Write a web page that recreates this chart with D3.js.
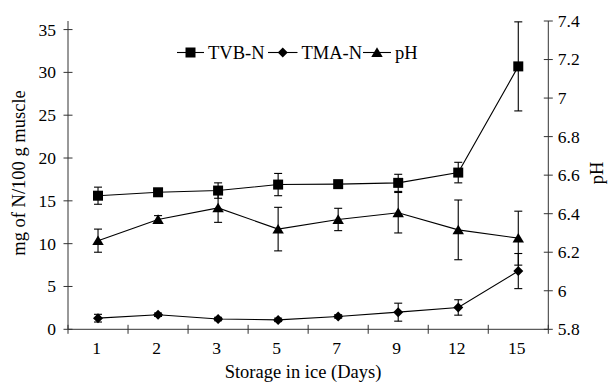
<!DOCTYPE html>
<html>
<head>
<meta charset="utf-8">
<script src="https://cdn.jsdelivr.net/npm/d3@7"></script>
<style>
  body { margin: 0; background: #fff; }
  text { font-family: "Liberation Serif", "Times New Roman", serif; fill: #000; }
</style>
</head>
<body>
<div id="chart"></div>
<script>
// storage days (categories)
const days = ["1", "2", "3", "5", "7", "9", "12", "15"];

// TVB-N and TMA-N in mg N/100 g muscle (left axis)
const tvbN = [15.6, 16.0, 16.2, 16.9, 16.95, 17.1, 18.3, 30.7];
const tvbErr = [1.0, 0.4, 0.9, 1.3, 0.3, 1.0, 1.2, 5.2];
const tmaN = [1.3, 1.7, 1.2, 1.1, 1.5, 2.0, 2.55, 6.8];
const tmaErr = [0.45, 0.2, 0.2, 0.2, 0.2, 1.05, 0.9, 2.05];

// pH (right axis)
const pH = [6.26, 6.37, 6.43, 6.32, 6.37, 6.405, 6.316, 6.273];
const pHErr = [0.06, 0.02, 0.075, 0.113, 0.058, 0.105, 0.155, 0.14];

const leftTicks = [0, 5, 10, 15, 20, 25, 30, 35];
const rightTicks = [5.8, 6, 6.2, 6.4, 6.6, 6.8, 7, 7.2, 7.4];

const w = 608, h = 382;
const plot = { left: 68, right: 548.3, top: 21, bottom: 329.3 };

const svg = d3.select("#chart").append("svg")
    .attr("width", w)
    .attr("height", h);

const x = d3.scaleBand().domain(days).range([plot.left, plot.right]);
const cx = d => x(d) + x.bandwidth() / 2;
const yL = d3.scaleLinear().domain([0, 36]).range([plot.bottom, plot.top]);
const yR = d3.scaleLinear().domain([5.8, 7.4]).range([plot.bottom, plot.top]);

const axisColor = "#333";
const fs = "17.5px";

// left axis
svg.append("line")
    .attr("x1", plot.left).attr("x2", plot.left)
    .attr("y1", plot.top).attr("y2", plot.bottom)
    .attr("stroke", axisColor);
leftTicks.forEach(t => {
    svg.append("line")
        .attr("x1", plot.left - 4.5).attr("x2", plot.left + 4.5)
        .attr("y1", yL(t)).attr("y2", yL(t))
        .attr("stroke", axisColor);
    svg.append("text")
        .attr("x", plot.left - 12).attr("y", yL(t)).attr("dy", "0.34em")
        .attr("text-anchor", "end").style("font-size", fs)
        .text(t);
});

// right axis
svg.append("line")
    .attr("x1", plot.right).attr("x2", plot.right)
    .attr("y1", plot.top).attr("y2", plot.bottom)
    .attr("stroke", axisColor);
rightTicks.forEach(t => {
    svg.append("line")
        .attr("x1", plot.right - 4.5).attr("x2", plot.right + 4.5)
        .attr("y1", yR(t)).attr("y2", yR(t))
        .attr("stroke", axisColor);
    svg.append("text")
        .attr("x", plot.right + 9.5).attr("y", yR(t)).attr("dy", "0.34em")
        .attr("text-anchor", "start").style("font-size", fs)
        .text(d3.format("~g")(t));
});

// bottom axis: ticks sit between categories
svg.append("line")
    .attr("x1", plot.left).attr("x2", plot.right)
    .attr("y1", plot.bottom).attr("y2", plot.bottom)
    .attr("stroke", axisColor);
days.map(d => x(d)).concat([plot.right]).forEach(px => {
    svg.append("line")
        .attr("x1", px).attr("x2", px)
        .attr("y1", plot.bottom - 4.5).attr("y2", plot.bottom + 4.5)
        .attr("stroke", axisColor);
});
days.forEach(d => {
    svg.append("text")
        .attr("x", cx(d) - 1.5).attr("y", 354)
        .attr("text-anchor", "middle").style("font-size", fs)
        .text(d);
});

// axis titles
svg.append("text")
    .attr("x", 303).attr("y", 378)
    .attr("text-anchor", "middle").style("font-size", "18.5px")
    .text("Storage in ice (Days)");
svg.append("text")
    .attr("transform", "translate(25, 173) rotate(-90)")
    .attr("text-anchor", "middle").style("font-size", "18.5px")
    .text("mg of N/100 g muscle");
svg.append("text")
    .attr("transform", "translate(603, 173) rotate(-90)")
    .attr("text-anchor", "middle").style("font-size", "18.5px")
    .text("pH");

// marker shapes
const square = (s) => `M${-s},${-s}H${s}V${s}H${-s}Z`;
const diamond = (s) => `M0,${-s}L${s},0L0,${s}L${-s},0Z`;
const triangle = (s) => `M0,${-s}L${s * 1.1},${s * 0.85}L${-s * 1.1},${s * 0.85}Z`;

const series = [
    { name: "TVB-N", vals: tvbN, err: tvbErr, y: yL, shape: () => square(5) },
    { name: "TMA-N", vals: tmaN, err: tmaErr, y: yL, shape: () => diamond(5) },
    { name: "pH", vals: pH, err: pHErr, y: yR, shape: () => triangle(5.2) }
];

series.forEach(s => {
    const pts = days.map((d, i) => ({ d, v: s.vals[i], e: s.err[i] }));

    // error bars
    const eb = svg.append("g").attr("stroke", "#000").attr("stroke-width", 1.1);
    pts.forEach(p => {
        const top = s.y(p.v + p.e), bot = s.y(p.v - p.e);
        eb.append("line").attr("x1", cx(p.d)).attr("x2", cx(p.d))
            .attr("y1", top).attr("y2", bot);
        eb.append("line").attr("x1", cx(p.d) - 4).attr("x2", cx(p.d) + 4)
            .attr("y1", top).attr("y2", top);
        eb.append("line").attr("x1", cx(p.d) - 4).attr("x2", cx(p.d) + 4)
            .attr("y1", bot).attr("y2", bot);
    });

    // line
    svg.append("path")
        .datum(pts)
        .attr("fill", "none")
        .attr("stroke", "#000")
        .attr("stroke-width", 1.1)
        .attr("d", d3.line().x(p => cx(p.d)).y(p => s.y(p.v)));

    // markers
    svg.append("g").selectAll("path")
        .data(pts)
        .join("path")
        .attr("transform", p => `translate(${cx(p.d)},${s.y(p.v)})`)
        .attr("d", s.shape)
        .attr("fill", "#000");
});

// legend
const legend = svg.append("g");
const legendItems = [
    { x: 177, text: 208 },
    { x: 268, text: 301.5 },
    { x: 363, text: 395 }
];
series.forEach((s, i) => {
    const it = legendItems[i];
    const ly = 52.5;
    legend.append("line")
        .attr("x1", it.x).attr("x2", it.text - 4)
        .attr("y1", ly).attr("y2", ly)
        .attr("stroke", "#000").attr("stroke-width", 1.1);
    legend.append("path")
        .attr("transform", `translate(${(it.x + it.text - 4) / 2},${ly})`)
        .attr("d", s.shape())
        .attr("fill", "#000");
    legend.append("text")
        .attr("x", it.text).attr("y", ly).attr("dy", "0.34em")
        .style("font-size", "18.5px")
        .text(s.name);
});
</script>
</body>
</html>
